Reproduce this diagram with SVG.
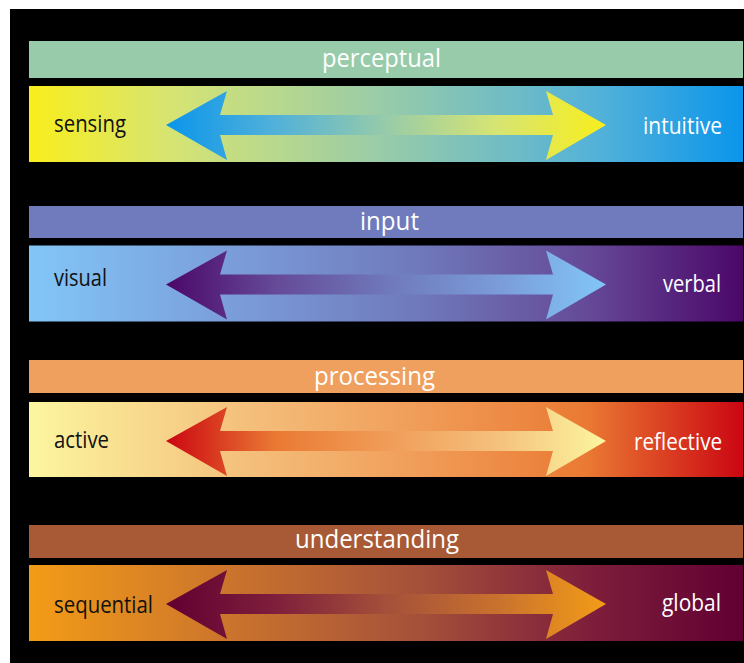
<svg xmlns="http://www.w3.org/2000/svg" xmlns:xlink="http://www.w3.org/1999/xlink" width="744" height="663" viewBox="0 0 744 663">
  <style>
    text { font-family: "Open Sans", "Noto Sans", "Liberation Sans", sans-serif; font-size: 23px; }
    .title { fill: #ffffff; font-size: 25px; }
    .lbl-dark { fill: #111111; }
    .lbl-light { fill: #ffffff; }
  </style>
  <defs>
    <linearGradient id="bg1" gradientUnits="userSpaceOnUse" x1="29" y1="0" x2="743" y2="0">
      <stop offset="0" stop-color="#f9ee1c"/>
      <stop offset="0.2" stop-color="#d6e473"/>
      <stop offset="0.5" stop-color="#97cba9"/>
      <stop offset="0.8" stop-color="#52b1d9"/>
      <stop offset="1" stop-color="#0a95eb"/>
    </linearGradient>
    <linearGradient id="ar1" gradientUnits="userSpaceOnUse" x1="166" y1="0" x2="606" y2="0">
      <stop offset="0" stop-color="#0a95eb"/>
      <stop offset="0.25" stop-color="#52b1d9"/>
      <stop offset="0.5" stop-color="#97cba9"/>
      <stop offset="0.75" stop-color="#d6e473"/>
      <stop offset="1" stop-color="#f9ee1c"/>
    </linearGradient>
    <linearGradient id="bg2" gradientUnits="userSpaceOnUse" x1="29" y1="0" x2="743" y2="0">
      <stop offset="0" stop-color="#82c6f7"/>
      <stop offset="0.3" stop-color="#7a9bd8"/>
      <stop offset="0.55" stop-color="#6f78ba"/>
      <stop offset="0.78" stop-color="#654a98"/>
      <stop offset="1" stop-color="#4b0768"/>
    </linearGradient>
    <linearGradient id="ar2" gradientUnits="userSpaceOnUse" x1="166" y1="0" x2="606" y2="0">
      <stop offset="0" stop-color="#4b0768"/>
      <stop offset="0.25" stop-color="#654a98"/>
      <stop offset="0.5" stop-color="#6f78ba"/>
      <stop offset="0.75" stop-color="#7a9bd8"/>
      <stop offset="1" stop-color="#82c6f7"/>
    </linearGradient>
    <linearGradient id="bg3" gradientUnits="userSpaceOnUse" x1="29" y1="0" x2="743" y2="0">
      <stop offset="0" stop-color="#fcf6a0"/>
      <stop offset="0.3" stop-color="#f4c07c"/>
      <stop offset="0.55" stop-color="#f09c58"/>
      <stop offset="0.78" stop-color="#ea7a33"/>
      <stop offset="1" stop-color="#cb0612"/>
    </linearGradient>
    <linearGradient id="ar3" gradientUnits="userSpaceOnUse" x1="166" y1="0" x2="606" y2="0">
      <stop offset="0" stop-color="#cb0612"/>
      <stop offset="0.25" stop-color="#ea7a33"/>
      <stop offset="0.5" stop-color="#f09c58"/>
      <stop offset="0.75" stop-color="#f4c07c"/>
      <stop offset="1" stop-color="#fcf6a0"/>
    </linearGradient>
    <linearGradient id="bg4" gradientUnits="userSpaceOnUse" x1="29" y1="0" x2="743" y2="0">
      <stop offset="0" stop-color="#f39c17"/>
      <stop offset="0.3" stop-color="#c8712e"/>
      <stop offset="0.55" stop-color="#a4503a"/>
      <stop offset="0.78" stop-color="#7f1f3b"/>
      <stop offset="1" stop-color="#610032"/>
    </linearGradient>
    <linearGradient id="ar4" gradientUnits="userSpaceOnUse" x1="166" y1="0" x2="606" y2="0">
      <stop offset="0" stop-color="#610032"/>
      <stop offset="0.25" stop-color="#7f1f3b"/>
      <stop offset="0.5" stop-color="#a4503a"/>
      <stop offset="0.75" stop-color="#c8712e"/>
      <stop offset="1" stop-color="#f39c17"/>
    </linearGradient>
    <path id="dblArrow" d="M166,39 L227,5 L220,29 L553,29 L546,5 L606,39 L546,74 L553,49 L220,49 L227,74 Z"/>
  </defs>

  <rect x="0" y="0" width="744" height="663" fill="#ffffff"/>
  <rect x="10" y="9" width="734" height="654" fill="#000000"/>

  <g id="perceptual">
    <rect x="29" y="41" width="714" height="37" fill="#97cba9"/>
    <text class="title" x="322" y="67" textLength="119" lengthAdjust="spacingAndGlyphs">perceptual</text>
    <rect x="29" y="86" width="714" height="76" fill="url(#bg1)"/>
    <text class="lbl-dark" x="54" y="132" textLength="72" lengthAdjust="spacingAndGlyphs">sensing</text>
    <text class="lbl-light" x="643" y="133.5" textLength="79" lengthAdjust="spacingAndGlyphs">intuitive</text>
  </g>

  <g id="input">
    <rect x="29" y="206" width="714" height="32" fill="#6f7bbd"/>
    <text class="title" x="360" y="229.5" textLength="59" lengthAdjust="spacingAndGlyphs">input</text>
    <rect x="29" y="245.5" width="714" height="76" fill="url(#bg2)"/>
    <text class="lbl-dark" x="54" y="286" textLength="53" lengthAdjust="spacingAndGlyphs">visual</text>
    <text class="lbl-light" x="663" y="292" textLength="58" lengthAdjust="spacingAndGlyphs">verbal</text>
  </g>

  <g id="processing">
    <rect x="29" y="360" width="714" height="33" fill="#f0a05e"/>
    <text class="title" x="314" y="384.5" textLength="121" lengthAdjust="spacingAndGlyphs">processing</text>
    <rect x="29" y="402" width="714" height="75" fill="url(#bg3)"/>
    <text class="lbl-dark" x="54" y="448" textLength="55" lengthAdjust="spacingAndGlyphs">active</text>
    <text class="lbl-light" x="634" y="450" textLength="88" lengthAdjust="spacingAndGlyphs">reflective</text>
  </g>

  <g id="understanding">
    <rect x="29" y="525" width="714" height="33" fill="#a85a36"/>
    <text class="title" x="295" y="547.5" textLength="164" lengthAdjust="spacingAndGlyphs">understanding</text>
    <rect x="29" y="565" width="714" height="76" fill="url(#bg4)"/>
    <text class="lbl-dark" x="54" y="613" textLength="99" lengthAdjust="spacingAndGlyphs">sequential</text>
    <text class="lbl-light" x="662" y="610.5" textLength="59" lengthAdjust="spacingAndGlyphs">global</text>
  </g>

  <g id="connectors">
    <use xlink:href="#dblArrow" transform="translate(0,86)" fill="url(#ar1)"/>
    <use xlink:href="#dblArrow" transform="translate(0,245.5)" fill="url(#ar2)"/>
    <use xlink:href="#dblArrow" transform="translate(0,402)" fill="url(#ar3)"/>
    <use xlink:href="#dblArrow" transform="translate(0,565)" fill="url(#ar4)"/>
  </g>
</svg>
